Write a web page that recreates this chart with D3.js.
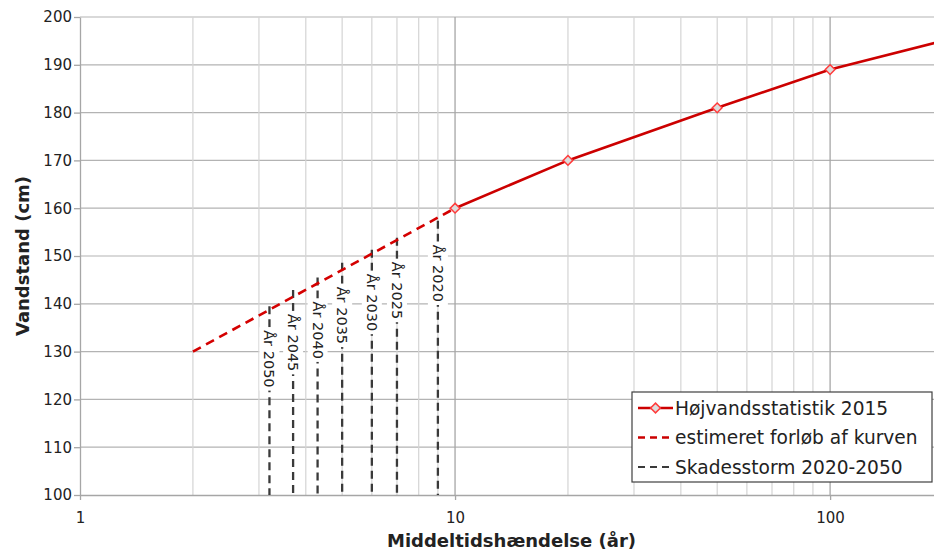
<!DOCTYPE html>
<html>
<head>
<meta charset="utf-8">
<script src="https://cdn.jsdelivr.net/npm/d3@7"></script>
<style>
  body { margin: 0; background: #fff; }
  svg { display: block; font-family: "DejaVu Sans", Verdana, sans-serif; }
</style>
</head>
<body>
<div id="canvas"></div>
<script>
// højvandsstatistik 2015
const returnPeriods = [10, 20, 50, 100, 200];
const levels2015 = [160, 170, 181, 189, 195];

// estimeret forløb (forlængelse under 10 år)
const estPeriods = [2, 10];
const estLevels = [130, 160];

// skadesstorm per år
const stormNames = ['År 2050', 'År 2045', 'År 2040', 'År 2035', 'År 2030', 'År 2025', 'År 2020'];
const stormPeriods = [3.2, 3.7, 4.3, 5.0, 6.0, 7.0, 9.0];
const stormLevels = [139.5, 142.9, 145.5, 148.6, 151.3, 153.8, 157.4];

const xTicks = [1, 10, 100];
const yTicks = [100, 110, 120, 130, 140, 150, 160, 170, 180, 190, 200];
const minorX = [2, 3, 4, 5, 6, 7, 8, 9, 20, 30, 40, 50, 60, 70, 80, 90];

const legendNames = ['Højvandsstatistik 2015', 'estimeret forløb af kurven', 'Skadesstorm 2020-2050'];

const width = 934;
const height = 552;
const margin = { top: 17, right: -9, bottom: 57, left: 80 };

const svg = d3.select('#canvas')
  .append('svg')
    .attr('width', width)
    .attr('height', height);

const x = d3.scaleLog()
  .domain([1, 200])
  .range([margin.left, width - margin.right]);

const y = d3.scaleLinear()
  .domain([100, 200])
  .range([height - margin.bottom, margin.top]);

const grid = svg.append('g');

// horizontal gridlines
grid.selectAll('.hg')
  .data(yTicks.slice(1))
  .enter()
  .append('line')
    .attr('x1', margin.left)
    .attr('x2', width)
    .attr('y1', d => y(d))
    .attr('y2', d => y(d))
    .attr('stroke', '#b3b3b3')
    .attr('stroke-width', 1.2);

// minor verticals
grid.selectAll('.mg')
  .data(minorX)
  .enter()
  .append('line')
    .attr('x1', d => x(d))
    .attr('x2', d => x(d))
    .attr('y1', y(100))
    .attr('y2', y(200))
    .attr('stroke', '#d4d4d4')
    .attr('stroke-width', 1.2);

// major verticals
grid.selectAll('.Mg')
  .data(xTicks.slice(1))
  .enter()
  .append('line')
    .attr('x1', d => x(d))
    .attr('x2', d => x(d))
    .attr('y1', y(100))
    .attr('y2', y(200))
    .attr('stroke', '#a6a6a6')
    .attr('stroke-width', 1.3);

// axes
const xAxis = svg.append('g')
  .attr('transform', `translate(0, ${y(100)})`)
  .call(d3.axisBottom(x).tickValues(xTicks).tickFormat(d3.format('d')).tickSize(5).tickSizeOuter(0));

const yAxis = svg.append('g')
  .attr('transform', `translate(${margin.left}, 0)`)
  .call(d3.axisLeft(y).tickValues(yTicks).tickSize(6).tickSizeOuter(0));

[xAxis, yAxis].forEach(g => {
  g.select('.domain').attr('stroke', '#a6a6a6').attr('stroke-width', 1.3);
  g.selectAll('.tick line').attr('stroke', '#a6a6a6').attr('stroke-width', 1.3);
  g.selectAll('.tick text')
    .attr('font-family', '"DejaVu Sans", Verdana, sans-serif')
    .attr('font-size', '15px')
    .attr('fill', '#222');
});
xAxis.selectAll('.tick text').attr('dy', '1.3em');
yAxis.selectAll('.tick text').attr('x', -8);

// skadesstorm lines
const storms = stormNames.map((n, i) => ({ name: n, p: stormPeriods[i], v: stormLevels[i] }));

svg.append('g').selectAll('line')
  .data(storms)
  .enter()
  .append('line')
    .attr('x1', d => x(d.p))
    .attr('x2', d => x(d.p))
    .attr('y1', d => y(d.v))
    .attr('y2', y(100))
    .attr('stroke', '#3a3a3a')
    .attr('stroke-width', 2.3)
    .attr('stroke-dasharray', '8,5');

// labels with white box
const lab = svg.append('g').selectAll('g')
  .data(storms)
  .enter()
  .append('g')
    .attr('transform', d => `translate(${x(d.p)}, ${y(d.v) + 24}) rotate(90)`);

lab.append('rect')
  .attr('fill', '#fff');

lab.append('text')
  .attr('font-size', '14.5px')
  .attr('fill', '#222')
  .attr('dy', '0.35em')
  .text(d => d.name);

lab.each(function() {
  const t = d3.select(this).select('text').node();
  const w = t.getComputedTextLength();
  d3.select(this).select('rect')
    .attr('x', -3).attr('y', -10)
    .attr('width', w + 6).attr('height', 20);
});

// estimated curve
const line = d3.line()
  .x(d => x(d[0]))
  .y(d => y(d[1]));

svg.append('path')
  .datum(estPeriods.map((p, i) => [p, estLevels[i]]))
  .attr('d', line)
  .attr('fill', 'none')
  .attr('stroke', '#d40000')
  .attr('stroke-width', 2.6)
  .attr('stroke-dasharray', '9,6');

// 2015 curve
const obs = returnPeriods.map((p, i) => [p, levels2015[i]]);

svg.append('path')
  .datum(obs)
  .attr('d', line)
  .attr('fill', 'none')
  .attr('stroke', '#cc0000')
  .attr('stroke-width', 2.6);

const diamond = d3.symbol().type(d3.symbolDiamond2).size(60);

svg.append('g').selectAll('path')
  .data(obs)
  .enter()
  .append('path')
    .attr('d', diamond)
    .attr('transform', d => `translate(${x(d[0])}, ${y(d[1])})`)
    .attr('fill', '#dcdcdc')
    .attr('stroke', '#ff3b3b')
    .attr('stroke-width', 1.5);

// legend
const legend = svg.append('g')
  .attr('transform', 'translate(632, 392)');

legend.append('rect')
  .attr('width', 300)
  .attr('height', 90)
  .attr('fill', '#fff')
  .attr('stroke', '#404040')
  .attr('stroke-width', 1.2);

const rows = legend.selectAll('.row')
  .data(legendNames)
  .enter()
  .append('g')
    .attr('transform', (d, i) => `translate(0, ${16 + i * 29.5})`);

rows.append('line')
  .attr('x1', 6).attr('x2', 41)
  .attr('stroke', (d, i) => i == 2 ? '#3a3a3a' : '#cc0000')
  .attr('stroke-width', (d, i) => i == 2 ? 2 : 2.4)
  .attr('stroke-dasharray', (d, i) => i == 0 ? null : '7,5');

rows.filter((d, i) => i == 0)
  .append('path')
    .attr('d', diamond)
    .attr('transform', 'translate(23.5, 0)')
    .attr('fill', '#dcdcdc')
    .attr('stroke', '#ff3b3b')
    .attr('stroke-width', 1.5);

rows.append('text')
  .attr('x', 43)
  .attr('dy', '0.35em')
  .attr('font-size', '18.6px')
  .attr('fill', '#222')
  .text(d => d);

// axis titles
svg.append('text')
  .attr('x', (margin.left + 943) / 2)
  .attr('y', 547)
  .attr('text-anchor', 'middle')
  .attr('font-size', '18px')
  .attr('font-weight', 'bold')
  .attr('fill', '#222')
  .text('Middeltidshændelse (år)');

svg.append('text')
  .attr('transform', `translate(29, ${(y(100) + y(200)) / 2}) rotate(-90)`)
  .attr('text-anchor', 'middle')
  .attr('font-size', '18px')
  .attr('font-weight', 'bold')
  .attr('fill', '#222')
  .text('Vandstand (cm)');
</script>
</body>
</html>
